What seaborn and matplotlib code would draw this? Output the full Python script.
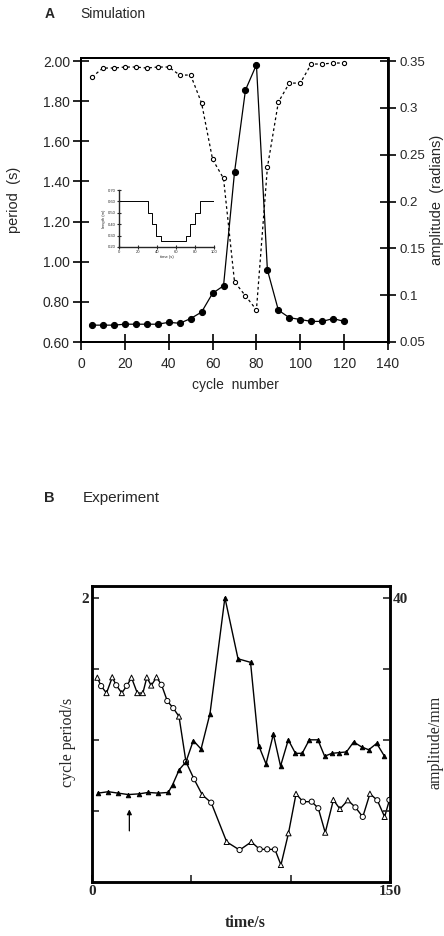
import matplotlib
matplotlib.use("Agg")
import matplotlib.pyplot as plt
import seaborn as sns
import pandas as pd

# Panel A: simulation
cycle = list(range(5, 125, 5))
sim_period = [1.92, 1.965, 1.965, 1.97, 1.97, 1.965, 1.97, 1.97, 1.93, 1.93, 1.79, 1.51,
              1.415, 0.90, 0.83, 0.76, 1.47, 1.795, 1.89, 1.89, 1.985, 1.985, 1.99, 1.99]
sim_amp = [0.068, 0.068, 0.068, 0.069, 0.069, 0.069, 0.069, 0.071, 0.070, 0.075, 0.082, 0.102,
           0.110, 0.231, 0.319, 0.346, 0.127, 0.084, 0.076, 0.074, 0.072, 0.072, 0.075, 0.072]
period_ticks = [0.60, 0.80, 1.00, 1.20, 1.40, 1.60, 1.80, 2.00]
amp_ticks = [0.05, 0.1, 0.15, 0.2, 0.25, 0.3, 0.35]
cycle_ticks = [0, 20, 40, 60, 80, 100, 120, 140]

# inset: length schedule
inset_time = [0, 30, 35, 39, 44, 70, 75, 80, 85, 100]
inset_len = [0.60, 0.50, 0.40, 0.30, 0.25, 0.30, 0.40, 0.50, 0.60, 0.60]
inset_xticks = [0, 20, 40, 60, 80, 100]
inset_yticks = [0.20, 0.30, 0.40, 0.50, 0.60, 0.70]

# Panel B: experiment
exp_t_period = [2.7, 4.6, 7.3, 10.2, 12.2, 15.0, 17.5, 19.9, 22.8, 25.6, 27.6, 29.8, 32.5, 35.0,
                 37.9, 40.9, 43.8, 47.3, 51.4, 55.5, 60.0, 67.8, 74.3, 80.2, 84.4, 88.2, 92.1,
                 95.1, 98.9, 102.7, 106.2, 110.6, 113.9, 117.4, 121.5, 124.8, 128.8, 132.6,
                 136.3, 139.9, 143.6, 147.3, 149.7]
exp_period = [1.437, 1.378, 1.329, 1.440, 1.384, 1.329, 1.380, 1.437, 1.329, 1.329, 1.439,
              1.382, 1.440, 1.387, 1.273, 1.223, 1.164, 0.845, 0.723, 0.613, 0.558, 0.282,
              0.225, 0.282, 0.230, 0.230, 0.229, 0.120, 0.343, 0.620, 0.565, 0.565, 0.519,
              0.347, 0.577, 0.514, 0.575, 0.525, 0.458, 0.621, 0.575, 0.458, 0.577]
period_shape = ['t', 'c', 't', 't', 'c', 't', 'c', 't', 't', 't', 't', 't', 't', 'c', 'c',
                'c', 't', 'c', 'c', 't', 'c', 't', 'c', 't', 'c', 'c', 'c', 't', 't', 't',
                'c', 'c', 'c', 't', 't', 't', 't', 'c', 'c', 't', 'c', 't', 'c']
exp_t_amp = [2.9, 8.2, 13.2, 18.3, 23.7, 28.3, 33.4, 38.4, 40.6, 43.9, 47.3, 51.0, 54.9, 59.4,
             66.9, 73.5, 79.8, 83.9, 87.6, 91.3, 94.9, 98.8, 102.4, 105.8, 109.4, 113.7,
             117.1, 120.8, 124.4, 128.1, 131.7, 135.7, 139.3, 143.3, 147.2]
exp_amp = [12.5, 12.7, 12.5, 12.3, 12.4, 12.6, 12.5, 12.6, 13.7, 15.8, 16.9, 19.9, 18.7, 23.7,
           40.0, 31.4, 30.9, 19.2, 16.6, 20.8, 16.3, 20.0, 18.1, 18.1, 20.0, 20.0, 17.7, 18.1,
           18.2, 18.3, 19.7, 19.0, 18.6, 19.5, 17.7]
arrow_time = 18.8

sns.set_theme(style="ticks")
sans = ['Liberation Sans', 'DejaVu Sans']
serif = ['Liberation Serif', 'DejaVu Serif']
plt.rcParams['font.family'] = sans

W, H = 444, 936
fig = plt.figure(figsize=(W / 100, H / 100), dpi=100)


def box(left, top, right, bottom):
    return [left / W, 1 - bottom / H, (right - left) / W, (bottom - top) / H]


# ---------------- panel A ----------------
axA = fig.add_axes(box(81, 58, 388, 342))
axA2 = axA.twinx()

sns.lineplot(x=cycle, y=sim_period, ax=axA, color='black', lw=0.9, linestyle=(0, (2.2, 2.2)),
             marker='o', markersize=3.0, markerfacecolor='white', markeredgecolor='black',
             markeredgewidth=0.8, estimator=None, sort=False)
sns.lineplot(x=cycle, y=sim_amp, ax=axA2, color='black', lw=0.9,
             marker='o', markersize=4.4, markerfacecolor='black', markeredgecolor='black',
             estimator=None, sort=False)

axA.set_xlim(0, 140)
axA.set_ylim(0.60, 2.015)
axA2.set_ylim(0.05, 0.05 + 1.415 * 0.3 / 1.4)
axA.set_xticks(cycle_ticks)
axA.set_yticks(period_ticks, [f"{v:.2f}" for v in period_ticks])
axA2.set_yticks(amp_ticks, [f"{v:g}" for v in amp_ticks])
axA.set_xlabel('')
axA.set_ylabel('')
for a in (axA, axA2):
    for s in a.spines.values():
        s.set_linewidth(1.4)
        s.set_color('black')
axA2.spines['right'].set_linewidth(2.0)
axA.tick_params(axis='y', direction='inout', length=12, width=1.4, labelsize=10, pad=2)
axA.tick_params(axis='x', direction='inout', length=12, width=1.4, labelsize=10, pad=5)
axA2.tick_params(axis='y', direction='inout', length=12, width=1.4, labelsize=9.5, pad=2)

# inset
axI = fig.add_axes(box(119, 190, 214, 247))
sns.lineplot(x=inset_time, y=inset_len, ax=axI, color='black', lw=0.7,
             drawstyle='steps-post', estimator=None, sort=False)
axI.set_xlim(0, 100)
axI.set_ylim(0.20, 0.70)
axI.set_xticks(inset_xticks)
axI.set_yticks(inset_yticks, [f"{v:.2f}" for v in inset_yticks])
axI.spines['top'].set_visible(False)
axI.spines['right'].set_visible(False)
for s in ('left', 'bottom'):
    axI.spines[s].set_linewidth(1.0)
axI.tick_params(axis='both', direction='inout', length=3, width=0.8, labelsize=3, pad=1)
axI.set_xlabel('time (s)', fontsize=3, labelpad=0.5)
axI.set_ylabel('length (m)', fontsize=3, labelpad=1)

fig.text(50 / W, 1 - 14 / H, 'A', fontsize=10, fontweight='bold', ha='center', va='center')
fig.text(80 / W, 1 - 14 / H, 'Simulation', fontsize=10, ha='left', va='center')
fig.text(14 / W, 1 - 200 / H, 'period  (s)', fontsize=10.5, rotation=90, ha='center', va='center')
fig.text(437 / W, 1 - 200 / H, 'amplitude  (radians)', fontsize=10.5, rotation=90,
         ha='center', va='center')
fig.text(235 / W, 1 - 385 / H, 'cycle  number', fontsize=10, ha='center', va='center')

# ---------------- panel B ----------------
axB = fig.add_axes(box(92, 586, 390, 882))
axB2 = axB.twinx()

dfp = pd.DataFrame({'t': exp_t_period, 'p': exp_period, 'shape': period_shape})
sns.lineplot(data=dfp, x='t', y='p', ax=axB, color='black', lw=1.0, estimator=None, sort=False)
sns.scatterplot(data=dfp, x='t', y='p', style='shape', markers={'t': '^', 'c': 'o'},
                color='white', edgecolor='black', linewidth=0.7, s=14, legend=False,
                ax=axB, zorder=3)
sns.lineplot(x=exp_t_amp, y=exp_amp, ax=axB2, color='black', lw=1.0, marker='^',
             markersize=3.2, markerfacecolor='black', markeredgecolor='black',
             estimator=None, sort=False)

axB.set_xlim(0, 150)
axB.set_ylim(0, 2.082)
axB2.set_ylim(0, 2.082 * 20)
axB.set_xticks([0, 50, 100, 150], ['0', '', '', '150'], fontweight='bold', family=serif)
axB.set_yticks([0.5, 1.0, 1.5, 2.0], ['', '', '', '2'], fontweight='bold', family=serif)
axB2.set_yticks([10, 20, 30, 40], ['', '', '', '40'], fontweight='bold', family=serif)
axB.set_xlabel('')
axB.set_ylabel('')
for a in (axB, axB2):
    for s in a.spines.values():
        s.set_linewidth(1.8)
        s.set_color('black')
axB.tick_params(axis='both', direction='in', length=5, width=1.2, labelsize=11, pad=2)
axB2.tick_params(axis='y', direction='in', length=5, width=1.2, labelsize=11, pad=2)

axB.annotate('', xy=(arrow_time, 0.53), xytext=(arrow_time, 0.34),
             arrowprops=dict(arrowstyle='-|>', color='black', lw=0.9, mutation_scale=7))

fig.text(49 / W, 1 - 498 / H, 'B', fontsize=10.5, fontweight='bold', ha='center', va='center')
fig.text(83 / W, 1 - 498 / H, 'Experiment', fontsize=11, ha='left', va='center')
fig.text(68 / W, 1 - 742 / H, 'cycle period/s', fontsize=11.5, family=serif, rotation=90,
         ha='center', va='center')
fig.text(435 / W, 1 - 742 / H, 'amplitude/mm', fontsize=11.5, family=serif, rotation=90,
         ha='center', va='center')
fig.text(245 / W, 1 - 923 / H, 'time/s', fontsize=11.5, family=serif, fontweight='bold',
         ha='center', va='center')

fig.savefig('out.png', dpi=100)
